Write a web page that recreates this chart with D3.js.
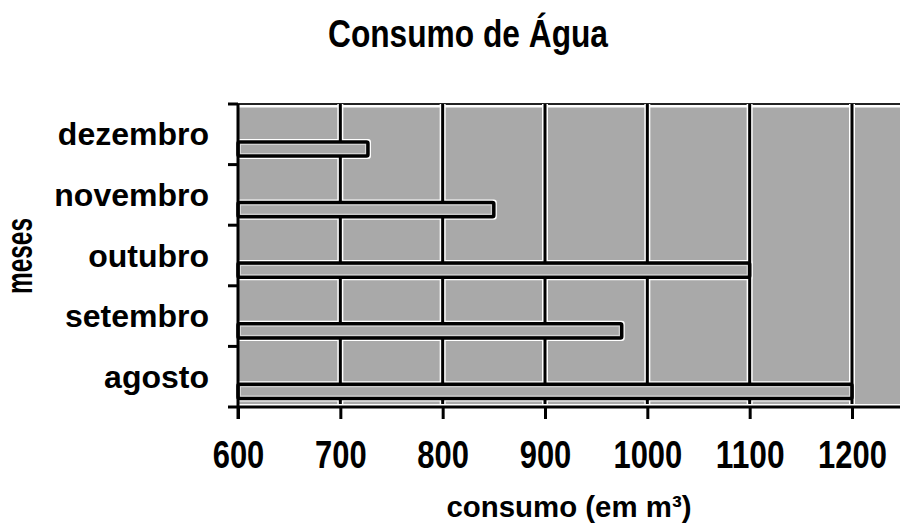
<!DOCTYPE html>
<html>
<head>
<meta charset="utf-8">
<script src="https://cdn.jsdelivr.net/npm/d3@7"></script>
<style>
  html, body { margin: 0; padding: 0; background: #fff; }
  svg { display: block; }
  text { font-family: "Liberation Sans", Arial, sans-serif; font-weight: bold; fill: #000; }
</style>
</head>
<body>
<svg id="chart" width="900" height="525"></svg>
<script>
// ---- data ----
const categories = ["dezembro", "novembro", "outubro", "setembro", "agosto"];
const values = [727, 850, 1100, 975, 1200];
const xTicks = [600, 700, 800, 900, 1000, 1100, 1200];
const titleText = "Consumo de Água";
const xTitle = "consumo (em m³)";
const yTitle = "meses";

const data = categories.map((c, i) => ({ cat: c, value: values[i] }));

// ---- layout ----
const W = 900, H = 525;
const plotL = 238, plotT = 104, plotB = 407, x1200 = 852;
const grayFill = "#a9a9a9";

const svg = d3.select("#chart");
svg.append("rect").attr("width", W).attr("height", H).attr("fill", "#fff");

const x = d3.scaleLinear().domain([600, 1200]).range([plotL, x1200]);
const y = d3.scaleBand().domain(categories).range([plotT, plotB]).padding(0);
const bw = y.bandwidth();
const barTop = d => y(d.cat) + bw * 0.625;
const barH = bw * 0.235;

// plot background
svg.append("rect")
  .attr("x", plotL).attr("y", plotT)
  .attr("width", W - plotL).attr("height", plotB - plotT - 3)
  .attr("fill", grayFill);

// bar halos
svg.append("g").selectAll("rect").data(data).join("rect")
  .attr("x", x(600)).attr("y", barTop)
  .attr("width", d => x(d.value) - x(600)).attr("height", barH)
  .attr("fill", "none").attr("stroke", "#fff").attr("stroke-width", 6)
  .attr("stroke-linejoin", "round");

// top border
svg.append("line").attr("x1", plotL).attr("x2", W).attr("y1", plotT + 1).attr("y2", plotT + 1)
  .attr("stroke", "#fff").attr("stroke-width", 5);
svg.append("line").attr("x1", plotL).attr("x2", W).attr("y1", plotT).attr("y2", plotT)
  .attr("stroke", "#222").attr("stroke-width", 2);

// vertical gridlines (halo + black)
const gridVals = xTicks.filter(v => v > 600);
svg.append("g").selectAll("line").data(gridVals).join("line")
  .attr("x1", d => x(d)).attr("x2", d => x(d))
  .attr("y1", plotT).attr("y2", plotB)
  .attr("stroke", "#fff").attr("stroke-width", 6);
svg.append("g").selectAll("line").data(gridVals).join("line")
  .attr("x1", d => x(d)).attr("x2", d => x(d))
  .attr("y1", plotT).attr("y2", plotB)
  .attr("stroke", "#000").attr("stroke-width", 3);

// bars
svg.append("g").selectAll("rect").data(data).join("rect")
  .attr("x", x(600)).attr("y", barTop)
  .attr("width", d => x(d.value) - x(600)).attr("height", barH)
  .attr("fill", grayFill).attr("stroke", "#000").attr("stroke-width", 3.5)
  .attr("rx", 1.5);
svg.append("g").selectAll("rect").data(data).join("rect")
  .attr("x", x(600) + 2.5).attr("y", d => barTop(d) + 2.5)
  .attr("width", d => x(d.value) - x(600) - 5).attr("height", barH - 5)
  .attr("fill", "none").attr("stroke", "#d8d8d8").attr("stroke-width", 1);

// x axis line (halo + black)
svg.append("line").attr("x1", plotL).attr("x2", W).attr("y1", plotB).attr("y2", plotB)
  .attr("stroke", "#fff").attr("stroke-width", 6);
svg.append("line").attr("x1", plotL).attr("x2", W).attr("y1", plotB).attr("y2", plotB)
  .attr("stroke", "#000").attr("stroke-width", 3);

// x axis via d3
const xAxis = d3.axisBottom(x).tickValues(xTicks).tickFormat(d3.format("d"))
  .tickSize(12).tickSizeOuter(0).tickPadding(21);
const gx = svg.append("g").attr("transform", `translate(0,${plotB})`).call(xAxis);
gx.select(".domain").remove();
gx.selectAll(".tick line").attr("stroke", "#000").attr("stroke-width", 3);
gx.selectAll(".tick text")
  .attr("font-family", "'Liberation Sans Narrow', 'Arial Narrow', 'Liberation Sans', sans-serif")
  .attr("font-weight", "bold")
  .attr("font-size", 38)
  .attr("dy", 0).attr("y", 61)
  .attr("textLength", d => String(d).length * 17.2)
  .attr("lengthAdjust", "spacingAndGlyphs");

// y axis via d3
const yAxis = d3.axisLeft(y).tickSize(0).tickPadding(29);
const gy = svg.append("g").attr("transform", `translate(${plotL},0)`).call(yAxis);
gy.select(".domain").remove();
gy.selectAll(".tick text")
  .attr("font-family", "'Liberation Sans', Arial, sans-serif")
  .attr("font-weight", "bold")
  .attr("font-size", 32)
  .attr("dy", 11);

// y axis line and ticks at band boundaries
svg.append("line").attr("x1", plotL).attr("x2", plotL).attr("y1", plotT).attr("y2", plotB + 12)
  .attr("stroke", "#000").attr("stroke-width", 3);
const bounds = categories.map(c => y(c)).concat([plotB]);
svg.append("g").selectAll("line").data(bounds).join("line")
  .attr("x1", plotL - 10).attr("x2", plotL).attr("y1", d => d).attr("y2", d => d)
  .attr("stroke", "#000").attr("stroke-width", 3);

// titles
svg.append("text").attr("x", 468).attr("y", 47).attr("text-anchor", "middle")
  .attr("font-size", 38).attr("textLength", 280).attr("lengthAdjust", "spacingAndGlyphs")
  .text(titleText);
svg.append("text").attr("x", 569).attr("y", 517).attr("text-anchor", "middle")
  .attr("font-size", 30).attr("textLength", 245).attr("lengthAdjust", "spacingAndGlyphs")
  .text(xTitle);
svg.append("text").attr("transform", "translate(32,256) rotate(-90)").attr("text-anchor", "middle")
  .attr("font-size", 36).attr("textLength", 76).attr("lengthAdjust", "spacingAndGlyphs")
  .text(yTitle);
</script>
</body>
</html>
